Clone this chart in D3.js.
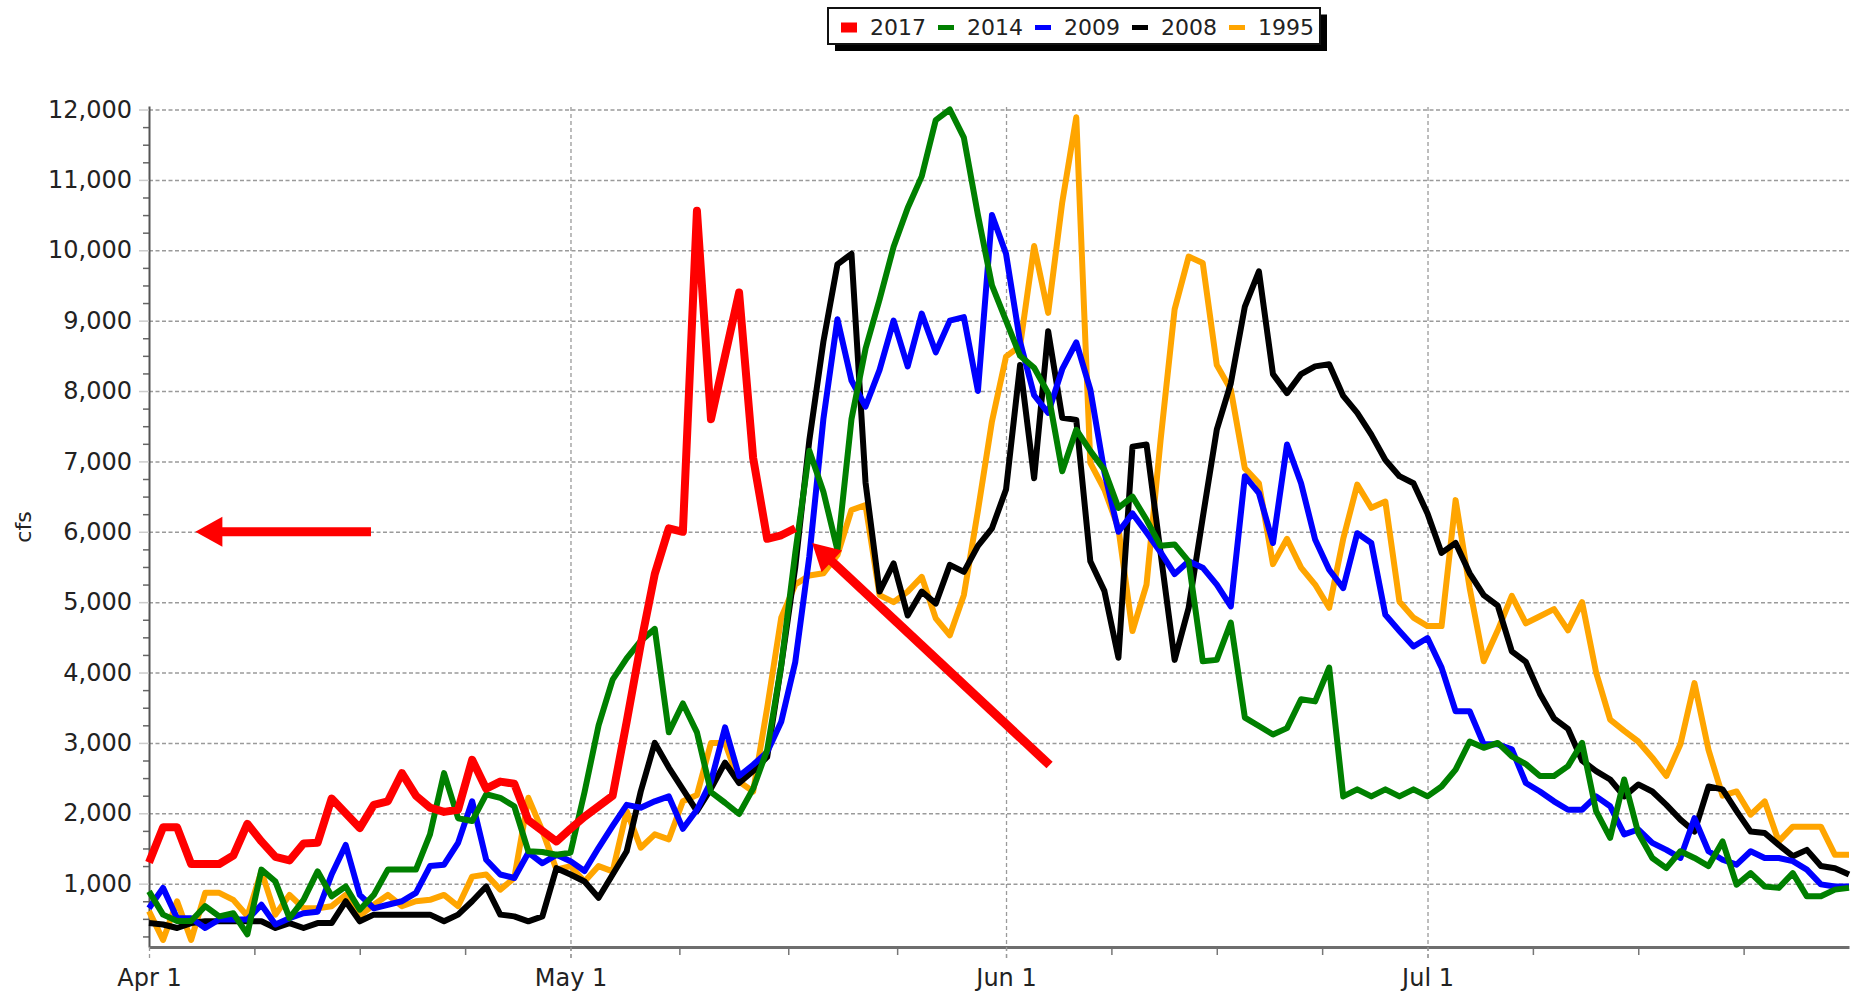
<!DOCTYPE html>
<html>
<head>
<meta charset="utf-8">
<script src="https://cdn.jsdelivr.net/npm/d3@7"></script>
<style>
body { margin: 0; background: #fff; }
svg { display: block; font-family: "DejaVu Sans", Verdana, sans-serif; }
</style>
</head>
<body>
<svg width="1857" height="995"></svg>
<script>
// daily flow (cfs) starting Apr 1
var seriesNames = ["2017", "2014", "2009", "2008", "1995"];
var seriesColors = ["#ff0000", "#008000", "#0000ff", "#000000", "#ffa500"];

var flow2017 = [1300, 1800, 1800, 1280, 1280, 1280, 1400, 1850, 1600, 1380,
  1330, 1570, 1580, 2210, 2000, 1790, 2120, 2170, 2570, 2250,
  2080, 2020, 2050, 2760, 2350, 2450, 2420, 1900, 1750, 1600,
  1780, 1950, 2100, 2250, 3300, 4400, 5400, 6050, 6000, 10560,
  7600, 8500, 9400, 7050, 5900, 5950, 6050];

var flow2014 = [890, 560, 470, 470, 680, 535, 580, 280, 1200, 1030,
  510, 770, 1175, 820, 960, 630, 840, 1200, 1200, 1200,
  1700, 2570, 1930, 1890, 2270, 2220, 2100, 1460, 1450, 1410,
  1440, 2300, 3250, 3900, 4200, 4450, 4620, 3150, 3560, 3150,
  2300, 2150, 1990, 2350, 2900, 4100, 5700, 7150, 6570, 5740,
  7600, 8600, 9300, 10050, 10600, 11050, 11850, 12000, 11600, 10500,
  9500, 9000, 8500, 8330, 7970, 6860, 7450, 7150, 6880, 6340,
  6500, 6170, 5800, 5820, 5580, 4160, 4180, 4710, 3360, 3240,
  3120, 3210, 3620, 3590, 4070, 2240, 2340, 2240, 2340, 2240,
  2340, 2240, 2380, 2620, 3020, 2930, 3000, 2810, 2700, 2530,
  2530, 2670, 3000, 2030, 1650, 2480, 1720, 1365, 1220, 1460,
  1365, 1250, 1600, 985, 1150, 960, 940, 1150, 820, 820,
  915, 940];

var flow2009 = [650, 940, 510, 510, 370, 490, 490, 490, 700, 420,
  510, 580, 600, 1130, 1550, 840, 650, 700, 750, 870,
  1250, 1270, 1580, 2170, 1340, 1130, 1080, 1440, 1290, 1410,
  1320, 1180, 1510, 1820, 2120, 2080, 2170, 2240, 1780, 2050,
  2450, 3220, 2530, 2690, 2870, 3300, 4150, 5650, 7600, 9020,
  8150, 7780, 8300, 9000, 8350, 9100, 8550, 9000, 9050, 8000,
  10500, 9950, 8700, 7940, 7690, 8310, 8690, 8020, 6850, 6000,
  6260, 5990, 5710, 5400, 5580, 5490, 5250, 4940, 6790, 6550,
  5840, 7240, 6690, 5890, 5460, 5200, 5980, 5840, 4820, 4590,
  4370, 4490, 4070, 3450, 3450, 2980, 2980, 2910, 2430, 2310,
  2170, 2050, 2050, 2240, 2100, 1700, 1770, 1580, 1480, 1365,
  1930, 1460, 1340, 1270, 1460, 1365, 1365, 1320, 1200, 990,
  960, 960];

var flow2008 = [440, 420, 370, 440, 465, 465, 465, 465, 465, 370,
  440, 370, 440, 440, 750, 465, 560, 560, 560, 560,
  560, 465, 560, 750, 960, 560, 535, 465, 535, 1220,
  1130, 1030, 800, 1130, 1460, 2310, 3000, 2650, 2340, 2030,
  2350, 2720, 2430, 2600, 2800, 4100, 5500, 7300, 8700, 9800,
  9950, 6700, 5150, 5550, 4810, 5150, 4980, 5530, 5430, 5800,
  6050, 6600, 8370, 6760, 8850, 7620, 7590, 5580, 5160, 4210,
  7210, 7240, 5700, 4180, 4920, 6200, 7450, 8110, 9200, 9700,
  8240, 7970, 8240, 8350, 8380, 7930, 7690, 7380, 7020, 6790,
  6690, 6260, 5700, 5840, 5410, 5100, 4950, 4300, 4150, 3700,
  3350, 3200, 2750, 2600, 2480, 2240, 2410, 2310, 2120, 1910,
  1740, 2380, 2340, 2030, 1740, 1720, 1550, 1390, 1480, 1250,
  1220, 1130];

var flow1995 = [610, 200, 750, 200, 870, 870, 770, 540, 1175, 560,
  840, 650, 650, 680, 840, 540, 700, 840, 680, 750,
  770, 840, 680, 1100, 1130, 915, 1080, 2220, 1750, 1200,
  1250, 1030, 1250, 1175, 2030, 1510, 1700, 1630, 2170, 2260,
  3000, 3000, 2450, 2310, 3500, 4780, 5250, 5380, 5410, 5670,
  6310, 6380, 5100, 5000, 5150, 5360, 4770, 4530, 5100, 6300,
  7570, 8490, 8640, 10060, 9110, 10680, 11890, 6980, 6600, 6050,
  4590, 5250, 7300, 9160, 9910, 9820, 8370, 8020, 6900, 6690,
  5540, 5900, 5490, 5250, 4920, 5900, 6670, 6340, 6430, 5010,
  4780, 4660, 4660, 6450, 5200, 4160, 4600, 5090, 4700, 4800,
  4900, 4600, 5000, 4000, 3330, 3170, 3020, 2790, 2530, 2980,
  3850, 2900, 2250, 2310, 1980, 2170, 1600, 1810, 1810, 1810,
  1410, 1410];

var seriesValues = [flow2017, flow2014, flow2009, flow2008, flow1995];

var monthLabels = ["Apr 1", "May 1", "Jun 1", "Jul 1"];
var yTicks = [1000, 2000, 3000, 4000, 5000, 6000, 7000, 8000, 9000, 10000, 11000, 12000];

// annotation arrows: [tail day, tail cfs, tip day, tip cfs]
var arrows = [[15.8, 6000, 3.3, 6000], [64.1, 2685, 47.2, 5842]];

var DAY = 864e5;
var start = Date.UTC(2017, 3, 1);
var end = Date.UTC(2017, 6, 31);
var monthDates = [Date.UTC(2017, 3, 1), Date.UTC(2017, 4, 1), Date.UTC(2017, 5, 1), Date.UTC(2017, 6, 1)];

var svg = d3.select("svg");
var plotLeft = 149, plotRight = 1849, plotTop = 106, plotBottom = 947;

var x = d3.scaleUtc().domain([start, end]).range([plotLeft, plotRight]);
var y = d3.scaleLinear().domain([100, 12050]).range([plotBottom, plotTop]);

// horizontal grid
svg.append("g")
    .attr("transform", "translate(" + plotLeft + ",0)")
    .call(d3.axisLeft(y).tickValues(yTicks).tickSize(-(plotRight - plotLeft)).tickFormat(""))
    .call(function(g) { g.select(".domain").remove(); })
    .selectAll("line")
    .attr("stroke", "#9a9a9a").attr("stroke-width", 1.5).attr("stroke-dasharray", "4,2.5");

// vertical month grid
svg.append("g")
    .attr("transform", "translate(0," + (plotBottom + 11) + ")")
    .call(d3.axisBottom(x).tickValues(monthDates.slice(1)).tickSize(-(plotBottom + 11 - plotTop)).tickFormat(""))
    .call(function(g) { g.select(".domain").remove(); })
    .selectAll("line")
    .attr("stroke", "#9a9a9a").attr("stroke-width", 1.3).attr("stroke-dasharray", "4,3");

// minor ticks
var minorY = d3.range(250, 12001, 250).filter(function(v) { return v % 1000 != 0; });
svg.append("g")
    .attr("transform", "translate(" + plotLeft + ",0)")
    .call(d3.axisLeft(y).tickValues(minorY).tickSize(6).tickFormat(""))
    .call(function(g) { g.select(".domain").remove(); })
    .selectAll("line").attr("stroke", "#666").attr("stroke-width", 1.5);

var minorX = [];
monthDates.forEach(function(m, i) {
  var next = i < monthDates.length - 1 ? monthDates[i + 1] : end;
  for (var k = 1; k < 4; k++) minorX.push(m + k * (next - m) / 4);
});
svg.append("g")
    .attr("transform", "translate(0," + plotBottom + ")")
    .call(d3.axisBottom(x).tickValues(minorX).tickSize(8).tickFormat(""))
    .call(function(g) { g.select(".domain").remove(); })
    .selectAll("line").attr("stroke", "#777").attr("stroke-width", 1.5);

// y axis
var yAxis = svg.append("g")
    .attr("transform", "translate(" + plotLeft + ",0)")
    .call(d3.axisLeft(y).tickValues(yTicks).tickSize(10).tickSizeOuter(0).tickPadding(7).tickFormat(d3.format(",")));
yAxis.select(".domain").attr("stroke", "#555").attr("stroke-width", 2);
yAxis.selectAll(".tick line").attr("stroke", "#ccc").attr("stroke-width", 1.5);
yAxis.selectAll("text").attr("font-size", 24).attr("fill", "#222")
    .attr("font-family", "'DejaVu Sans', Verdana, sans-serif");

// x axis
var xAxis = svg.append("g")
    .attr("transform", "translate(0," + plotBottom + ")")
    .call(d3.axisBottom(x).tickValues(monthDates).tickSize(11).tickSizeOuter(0).tickPadding(11)
      .tickFormat(function(d, i) { return monthLabels[i]; }));
xAxis.select(".domain").attr("stroke", "#6e6e6e").attr("stroke-width", 3);
xAxis.selectAll(".tick line").attr("stroke", "#9a9a9a").attr("stroke-width", 1.3).attr("stroke-dasharray", "4,3");
xAxis.selectAll("text").attr("font-size", 24).attr("fill", "#222")
    .attr("font-family", "'DejaVu Sans', Verdana, sans-serif");

svg.append("text")
    .attr("transform", "translate(31,527) rotate(-90)")
    .attr("text-anchor", "middle")
    .attr("font-size", 22)
    .attr("fill", "#222")
    .text("cfs");

// lines, 1995 first so 2017 ends on top
var line = d3.line()
    .x(function(v, i) { return x(start + i * DAY); })
    .y(function(v) { return y(v); });

for (var s = seriesValues.length - 1; s >= 0; s--) {
  svg.append("path")
      .datum(seriesValues[s])
      .attr("fill", "none")
      .attr("stroke", seriesColors[s])
      .attr("stroke-width", s == 0 ? 8 : 6)
      .attr("stroke-linejoin", "round")
      .attr("d", line);
}

// arrows
arrows.forEach(function(a) {
  var x0 = x(start + a[0] * DAY), y0 = y(a[1]);
  var x1 = x(start + a[2] * DAY), y1 = y(a[3]);
  var len = Math.hypot(x1 - x0, y1 - y0);
  var ux = (x1 - x0) / len, uy = (y1 - y0) / len;
  var headLen = 27, headW = 15;
  var bx = x1 - ux * headLen, by = y1 - uy * headLen;
  svg.append("line")
      .attr("x1", x0).attr("y1", y0)
      .attr("x2", bx + ux * 2).attr("y2", by + uy * 2)
      .attr("stroke", "#ff0000").attr("stroke-width", 9);
  svg.append("path")
      .attr("d", "M" + x1 + "," + y1 +
        "L" + (bx - uy * headW) + "," + (by + ux * headW) +
        "L" + (bx + uy * headW) + "," + (by - ux * headW) + "Z")
      .attr("fill", "#ff0000");
});

// legend
var legend = svg.append("g");
legend.append("rect").attr("x", 835).attr("y", 14.5).attr("width", 492).attr("height", 36.5).attr("fill", "#000");
legend.append("rect").attr("x", 828).attr("y", 8).attr("width", 492).attr("height", 36)
    .attr("fill", "#fff").attr("stroke", "#111").attr("stroke-width", 2);
seriesNames.forEach(function(name, i) {
  var gx = 841 + i * 97;
  var h = i == 0 ? 10 : 5;
  legend.append("rect").attr("x", gx).attr("y", 27.5 - h / 2).attr("width", 16).attr("height", h)
      .attr("fill", seriesColors[i]);
  legend.append("text").attr("x", gx + 29).attr("y", 34.5)
      .attr("font-size", 22).attr("fill", "#222").text(name);
});
</script>
</body>
</html>
